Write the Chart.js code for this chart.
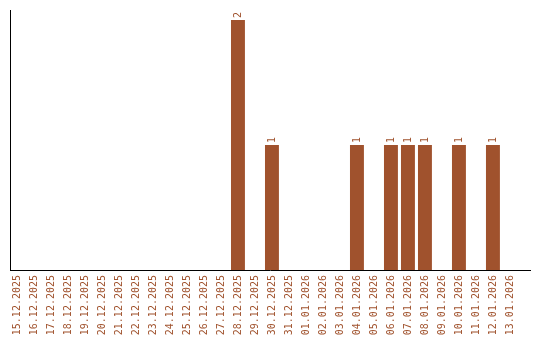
<!DOCTYPE html>
<html>
<head>
<meta charset="utf-8">
<script src="https://cdn.jsdelivr.net/npm/chart.js@4/dist/chart.umd.min.js"></script>
<style>
html,body{margin:0;padding:0;background:#fff;}
#wrap{width:540px;height:340px;}
</style>
</head>
<body>
<div id="wrap"><canvas id="c" width="540" height="340"></canvas></div>
<script>
const categories = [
  "15.12.2025","16.12.2025","17.12.2025","18.12.2025","19.12.2025","20.12.2025",
  "21.12.2025","22.12.2025","23.12.2025","24.12.2025","25.12.2025","26.12.2025",
  "27.12.2025","28.12.2025","29.12.2025","30.12.2025","31.12.2025","01.01.2026",
  "02.01.2026","03.01.2026","04.01.2026","05.01.2026","06.01.2026","07.01.2026",
  "08.01.2026","09.01.2026","10.01.2026","11.01.2026","12.01.2026","13.01.2026"
];
const counts = [
  0,0,0,0,0,0,
  0,0,0,0,0,0,
  0,2,0,1,0,0,
  0,0,1,0,1,1,
  1,0,1,0,1,0
];
const BROWN = "#A0522D";
const FONT = "'DejaVu Sans Mono', monospace";

const points = counts.map((v, i) => ({ x: i, y: v }));

const valueLabels = {
  id: "valueLabels",
  afterDatasetsDraw(chart) {
    const ctx = chart.ctx;
    const meta = chart.getDatasetMeta(0);
    ctx.save();
    ctx.fillStyle = BROWN;
    ctx.font = "10px " + FONT;
    ctx.textAlign = "left";
    ctx.textBaseline = "middle";
    meta.data.forEach((bar, i) => {
      const v = counts[i];
      if (!v) return;
      ctx.save();
      ctx.translate(bar.x, bar.y - 2);
      ctx.rotate(-Math.PI / 2);
      ctx.fillText(String(v), 0, 0);
      ctx.restore();
    });
    ctx.restore();
  }
};

new Chart(document.getElementById("c"), {
  type: "bar",
  data: {
    datasets: [{
      data: points,
      backgroundColor: BROWN,
      borderWidth: 0,
      barPercentage: 0.82,
      categoryPercentage: 1.0
    }]
  },
  options: {
    responsive: false,
    animation: false,
    devicePixelRatio: 1,
    layout: { padding: { top: 10, left: 10, right: 10, bottom: 0 } },
    plugins: { legend: { display: false }, tooltip: { enabled: false } },
    scales: {
      x: {
        type: "linear",
        offset: false,
        min: -0.41,
        max: categories.length + 0.18,
        grid: { display: false, drawTicks: false },
        border: { display: true, color: "#000", width: 1 },
        afterBuildTicks(s) {
          s.ticks = categories.map((c, i) => ({ value: i }));
        },
        afterFit(s) { s.height = 70; },
        ticks: {
          stepSize: 1,
          color: BROWN,
          font: { family: FONT, size: 10 },
          minRotation: 90, maxRotation: 90,
          autoSkip: false,
          padding: 5,
          callback: (v) => categories[v] ?? ""
        }
      },
      y: {
        min: 0,
        max: Math.max(...counts) * 1.04,
        grid: { display: false, drawTicks: false },
        border: { display: true, color: "#000", width: 1 },
        ticks: { display: false },
        afterFit(s) { s.width = 0; }
      }
    }
  },
  plugins: [valueLabels]
});
</script>
</body>
</html>
